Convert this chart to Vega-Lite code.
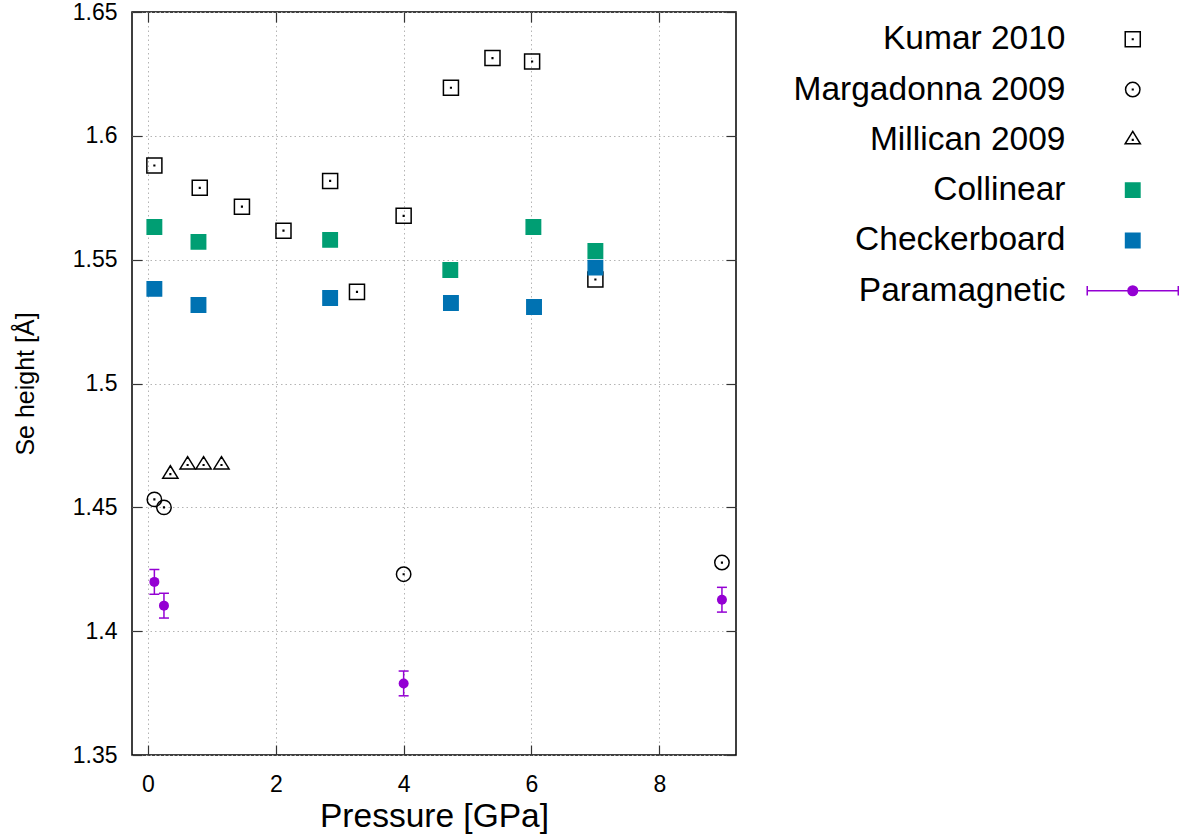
{
  "$schema": "https://vega.github.io/schema/vega-lite/v6.json",
  "width": 604,
  "height": 743,
  "autosize": {"type": "none"},
  "padding": {"left": 132, "top": 12, "right": 446, "bottom": 81},
  "background": "white",
  "config": {
    "font": "Liberation Sans",
    "view": {"stroke": "black", "strokeWidth": 1.5},
    "axis": {
      "domain": false,
      "gridColor": "#b4b4b4",
      "gridDash": [1.5, 3],
      "gridWidth": 1,
      "tickColor": "#333333",
      "tickSize": -10,
      "tickWidth": 1.2,
      "labelFont": "Liberation Sans",
      "labelColor": "black",
      "labelFontSize": 23,
      "titleFont": "Liberation Sans",
      "titleColor": "black",
      "titleFontWeight": "normal"
    }
  },
  "data": {
    "values": [
      {"series": "Kumar 2010", "p": 0.10, "h": 1.588},
      {"series": "Kumar 2010", "p": 0.81, "h": 1.579},
      {"series": "Kumar 2010", "p": 1.47, "h": 1.5714},
      {"series": "Kumar 2010", "p": 2.12, "h": 1.5617},
      {"series": "Kumar 2010", "p": 2.85, "h": 1.5818},
      {"series": "Kumar 2010", "p": 3.27, "h": 1.537},
      {"series": "Kumar 2010", "p": 4.0, "h": 1.5677},
      {"series": "Kumar 2010", "p": 4.74, "h": 1.6194},
      {"series": "Kumar 2010", "p": 5.39, "h": 1.6314},
      {"series": "Kumar 2010", "p": 6.01, "h": 1.630},
      {"series": "Kumar 2010", "p": 7.0, "h": 1.542},
      {"series": "Margadonna 2009", "p": 0.10, "h": 1.4532},
      {"series": "Margadonna 2009", "p": 0.25, "h": 1.450},
      {"series": "Margadonna 2009", "p": 4.0, "h": 1.423},
      {"series": "Margadonna 2009", "p": 8.98, "h": 1.4277},
      {"series": "Millican 2009", "p": 0.35, "h": 1.4634},
      {"series": "Millican 2009", "p": 0.62, "h": 1.4671},
      {"series": "Millican 2009", "p": 0.87, "h": 1.4671},
      {"series": "Millican 2009", "p": 1.15, "h": 1.4671},
      {"series": "Collinear", "p": 0.10, "h": 1.5632},
      {"series": "Collinear", "p": 0.79, "h": 1.5572},
      {"series": "Collinear", "p": 2.85, "h": 1.558},
      {"series": "Collinear", "p": 4.73, "h": 1.5458},
      {"series": "Collinear", "p": 6.03, "h": 1.5632},
      {"series": "Collinear", "p": 7.0, "h": 1.5535},
      {"series": "Checkerboard", "p": 0.10, "h": 1.5382},
      {"series": "Checkerboard", "p": 0.79, "h": 1.5317},
      {"series": "Checkerboard", "p": 2.85, "h": 1.5345},
      {"series": "Checkerboard", "p": 4.74, "h": 1.5325},
      {"series": "Checkerboard", "p": 6.04, "h": 1.5309},
      {"series": "Checkerboard", "p": 7.0, "h": 1.5468},
      {"series": "Paramagnetic", "p": 0.10, "h": 1.4199, "lo": 1.4149, "hi": 1.4249},
      {"series": "Paramagnetic", "p": 0.25, "h": 1.4103, "lo": 1.4053, "hi": 1.4153},
      {"series": "Paramagnetic", "p": 4.0, "h": 1.3789, "lo": 1.3739, "hi": 1.3839},
      {"series": "Paramagnetic", "p": 8.98, "h": 1.4127, "lo": 1.4077, "hi": 1.4177}
    ]
  },
  "resolve": {"axis": {"x": "independent", "y": "independent"}},
  "layer": [
    {
      "transform": [{"filter": "datum.series !== 'Paramagnetic'"}],
      "mark": {"type": "point", "size": 256, "strokeWidth": 1.5, "opacity": 1, "filled": true},
      "encoding": {
        "x": {
          "field": "p", "type": "quantitative",
          "scale": {"domain": [-0.25, 9.2], "nice": false, "zero": false},
          "axis": {"orient": "bottom", "values": [0, 2, 4, 6, 8], "format": "d", "grid": true, "labelPadding": 28, "title": "Pressure [GPa]", "titleFontSize": 33.5, "titlePadding": 4}
        },
        "y": {
          "field": "h", "type": "quantitative",
          "scale": {"domain": [1.35, 1.65], "nice": false, "zero": false},
          "axis": {"orient": "left", "values": [1.35, 1.4, 1.45, 1.5, 1.55, 1.6, 1.65], "format": ".2~f", "grid": true, "labelPadding": 25, "title": "Se height [Å]", "titleFontSize": 25, "titlePadding": 34}
        },
        "shape": {
          "field": "series", "type": "nominal",
          "scale": {
            "domain": ["Kumar 2010", "Margadonna 2009", "Millican 2009", "Collinear", "Checkerboard", "Paramagnetic"],
            "range": [
              "M-0.94,-0.94H0.94V0.94H-0.94ZM-0.04,-0.04H0.04V0.04H-0.04Z",
              "M0.9,0A0.9,0.9,0,1,1,-0.9,0A0.9,0.9,0,1,1,0.9,0ZM-0.04,-0.04H0.04V0.04H-0.04Z",
              "M0,-1.05L0.95,0.5H-0.95ZM-0.04,-0.04H0.04V0.04H-0.04Z",
              "M-0.9,-0.9H0.9V0.9H-0.9Z",
              "M-0.9,-0.9H0.9V0.9H-0.9Z",
              "M-5.69,0H5.69M-5.69,-0.6V0.6M5.69,-0.6V0.6M0.6,0A0.6,0.6,0,1,1,-0.6,0A0.6,0.6,0,1,1,0.6,0Z"
            ]
          },
          "legend": {"title": null, "orient": "none", "legendX": 984, "legendY": 10.5, "padding": 0, "labelFont": "Liberation Sans", "labelFontSize": 33.5, "labelColor": "black", "labelAlign": "right", "labelOffset": -84, "labelLimit": 500, "rowPadding": 15.3, "symbolSize": 256, "symbolStrokeWidth": 1.5}
        },
        "fill": {
          "field": "series", "type": "nominal",
          "scale": {
            "domain": ["Kumar 2010", "Margadonna 2009", "Millican 2009", "Collinear", "Checkerboard", "Paramagnetic"],
            "range": ["transparent", "transparent", "transparent", "#009e73", "#0072b2", "#9400d3"]
          },
          "legend": {"title": null, "orient": "none", "legendX": 984, "legendY": 10.5, "padding": 0, "labelFont": "Liberation Sans", "labelFontSize": 33.5, "labelColor": "black", "labelAlign": "right", "labelOffset": -84, "labelLimit": 500, "rowPadding": 15.3, "symbolSize": 256, "symbolStrokeWidth": 1.5}
        },
        "stroke": {
          "field": "series", "type": "nominal",
          "scale": {
            "domain": ["Kumar 2010", "Margadonna 2009", "Millican 2009", "Collinear", "Checkerboard", "Paramagnetic"],
            "range": ["black", "black", "black", "#009e73", "#0072b2", "#9400d3"]
          },
          "legend": {"title": null, "orient": "none", "legendX": 984, "legendY": 10.5, "padding": 0, "labelFont": "Liberation Sans", "labelFontSize": 33.5, "labelColor": "black", "labelAlign": "right", "labelOffset": -84, "labelLimit": 500, "rowPadding": 15.3, "symbolSize": 256, "symbolStrokeWidth": 1.5}
        }
      }
    },
    {
      "transform": [{"filter": "datum.series === 'Paramagnetic'"}],
      "mark": {"type": "rule", "color": "#9400d3", "strokeWidth": 1.5},
      "encoding": {
        "x": {"field": "p", "type": "quantitative", "axis": null},
        "y": {"field": "lo", "type": "quantitative", "axis": null},
        "y2": {"field": "hi"}
      }
    },
    {
      "transform": [{"filter": "datum.series === 'Paramagnetic'"}],
      "mark": {"type": "tick", "orient": "horizontal", "color": "#9400d3", "size": 10, "thickness": 1.5, "opacity": 1},
      "encoding": {
        "x": {"field": "p", "type": "quantitative", "axis": null},
        "y": {"field": "lo", "type": "quantitative", "axis": null}
      }
    },
    {
      "transform": [{"filter": "datum.series === 'Paramagnetic'"}],
      "mark": {"type": "tick", "orient": "horizontal", "color": "#9400d3", "size": 10, "thickness": 1.5, "opacity": 1},
      "encoding": {
        "x": {"field": "p", "type": "quantitative", "axis": null},
        "y": {"field": "hi", "type": "quantitative", "axis": null}
      }
    },
    {
      "transform": [{"filter": "datum.series === 'Paramagnetic'"}],
      "mark": {"type": "point", "shape": "circle", "filled": true, "color": "#9400d3", "size": 100, "opacity": 1},
      "encoding": {
        "x": {"field": "p", "type": "quantitative", "axis": {"orient": "top", "values": [0, 2, 4, 6, 8], "labels": false, "grid": false, "title": null}},
        "y": {"field": "h", "type": "quantitative", "axis": {"orient": "right", "values": [1.35, 1.4, 1.45, 1.5, 1.55, 1.6, 1.65], "labels": false, "grid": false, "title": null}}
      }
    }
  ]
}
